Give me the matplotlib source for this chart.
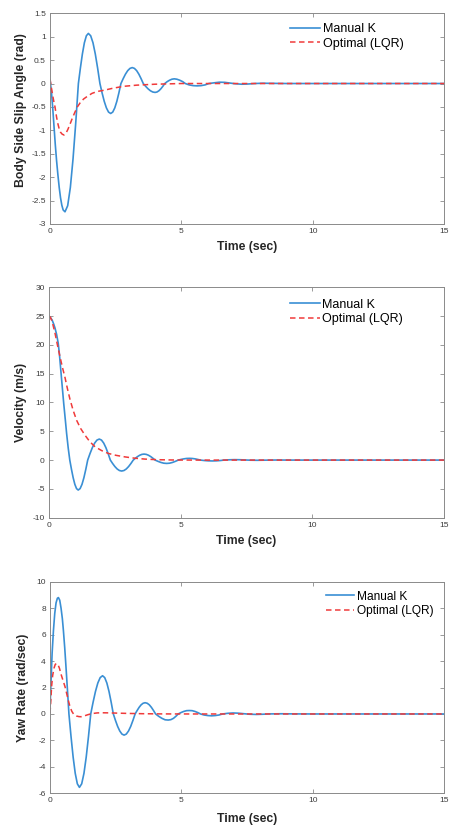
import numpy as np
import matplotlib
matplotlib.use("Agg")
from matplotlib import pyplot as plt
from matplotlib.ticker import FuncFormatter

plt.rcParams['font.family'] = ['Liberation Sans', 'DejaVu Sans']

# --- data (time in sec) ---
# body side slip angle (rad)
beta_man_t = [0.0, 0.05, 0.1, 0.15, 0.2, 0.25, 0.3, 0.35, 0.4, 0.45, 0.5, 0.57,
              0.672, 0.774, 0.876, 0.978, 1.08, 1.156, 1.232, 1.308, 1.384, 1.46,
              1.548, 1.636, 1.724, 1.812, 1.90, 1.982, 2.064, 2.146, 2.228, 2.31,
              2.388, 2.466, 2.544, 2.622, 2.70, 2.786, 2.872, 2.958, 3.044, 3.13,
              3.214, 3.298, 3.382, 3.466, 3.55, 3.64, 3.73, 3.82, 3.91, 4.0,
              4.074, 4.148, 4.222, 4.296, 4.37, 4.46, 4.55, 4.64, 4.73, 4.83, 4.94, 5.05, 5.15,
              5.3, 5.45, 5.6, 5.75, 5.9, 6.05, 6.25, 6.45, 6.65, 6.85, 7.05, 7.3, 7.55, 7.8,
              8.1, 8.5, 9.0, 15.0]
beta_man = [0.07, -0.15, -0.5, -0.9, -1.3, -1.65, -1.95, -2.22, -2.44, -2.6, -2.7, -2.74,
            -2.61, -2.22, -1.61, -0.85, 0.0, 0.33, 0.63, 0.87, 1.02, 1.07,
            1.02, 0.87, 0.63, 0.33, 0.0, -0.20, -0.38, -0.52, -0.61, -0.64,
            -0.61, -0.52, -0.38, -0.20, 0.0, 0.105, 0.20, 0.275, 0.323, 0.34,
            0.323, 0.275, 0.20, 0.105, 0.0, -0.059, -0.112, -0.154, -0.181, -0.19,
            -0.181, -0.154, -0.112, -0.059, 0.0, 0.04, 0.07, 0.092, 0.1, 0.092, 0.07, 0.04, 0.0,
            -0.03, -0.045, -0.05, -0.045, -0.03, 0.0, 0.015, 0.028, 0.025, 0.01, -0.005, -0.015, -0.01, 0.0,
            0.006, 0.003, 0.0, 0.0]
beta_lqr_t = [0.0, 0.05, 0.1, 0.15, 0.19, 0.25, 0.3, 0.35, 0.4, 0.46, 0.53, 0.6, 0.68, 0.76,
              0.85, 0.95, 1.04, 1.15, 1.28, 1.43, 1.6, 1.8, 2.09, 2.4, 2.8, 3.3, 4.0, 5.0, 15.0]
beta_lqr = [0.1, -0.08, -0.25, -0.4, -0.5, -0.72, -0.86, -0.97, -1.04, -1.08, -1.1, -1.07, -0.98, -0.87,
            -0.74, -0.61, -0.5, -0.41, -0.33, -0.27, -0.21, -0.17, -0.14, -0.1, -0.06, -0.035, -0.015, 0.0, 0.0]

# velocity (m/s)
vel_man_t = [0.0, 0.06, 0.12, 0.18, 0.23, 0.29, 0.35, 0.40, 0.46, 0.51, 0.56, 0.62, 0.67, 0.73, 0.79,
             0.854, 0.918, 0.982, 1.046, 1.11, 1.182, 1.254, 1.326, 1.398, 1.47,
             1.558, 1.646, 1.734, 1.822, 1.91, 1.994, 2.078, 2.162, 2.246, 2.33,
             2.416, 2.502, 2.588, 2.674, 2.76, 2.848, 2.936, 3.024, 3.112, 3.2,
             3.282, 3.364, 3.446, 3.528, 3.61, 3.694, 3.778, 3.862, 3.946, 4.03,
             4.14, 4.25, 4.36, 4.47, 4.58, 4.69, 4.80, 4.91, 5.01, 5.12, 5.22, 5.33, 5.44, 5.55, 5.65, 5.75,
             5.9, 6.05, 6.2, 6.35, 6.5, 6.65, 6.85, 7.05, 7.25, 7.45, 7.65, 7.9, 8.2, 8.6, 9.2, 15.0]
vel_man = [25.0, 24.7, 24.3, 23.6, 22.9, 21.8, 20.3, 18.2, 15.0, 12.4, 9.8, 7.0, 4.6, 2.1, 0.0,
           -1.61, -3.06, -4.21, -4.95, -5.2, -4.95, -4.21, -3.06, -1.61, 0.0,
           1.13, 2.15, 2.95, 3.47, 3.65, 3.47, 2.95, 2.15, 1.13, 0.0,
           -0.59, -1.12, -1.54, -1.81, -1.9, -1.81, -1.54, -1.12, -0.59, 0.0,
           0.32, 0.61, 0.84, 0.99, 1.04, 0.99, 0.84, 0.61, 0.32, 0.0,
           -0.22, -0.41, -0.54, -0.58, -0.54, -0.41, -0.22, 0.0, 0.11, 0.21, 0.28, 0.3, 0.28, 0.21, 0.11, 0.0,
           -0.08, -0.13, -0.15, -0.13, -0.08, 0.0, 0.05, 0.075, 0.06, 0.02, -0.02, -0.035, -0.015, 0.01, 0.0, 0.0]
vel_lqr_t = [0.0, 0.05, 0.1, 0.15, 0.23, 0.32, 0.42, 0.51, 0.61, 0.7, 0.8, 0.92, 1.05, 1.2, 1.37, 1.55,
             1.75, 2.0, 2.25, 2.55, 2.89, 3.25, 3.65, 4.1, 4.66, 5.5, 15.0]
vel_lqr = [25.0, 24.8, 24.3, 23.5, 22.0, 20.0, 17.9, 16.1, 14.3, 12.4, 10.5, 8.6, 6.9, 5.5, 4.3, 3.2,
           2.3, 1.65, 1.16, 0.82, 0.55, 0.33, 0.17, 0.07, 0.02, 0.0, 0.0]

# yaw rate (rad/sec)
yaw_man_t = [0.0, 0.04, 0.08, 0.13, 0.18, 0.23, 0.28, 0.32, 0.37, 0.42, 0.47, 0.51, 0.56, 0.60, 0.64, 0.68, 0.72,
             0.80, 0.88, 0.96, 1.04, 1.12, 1.206, 1.292, 1.378, 1.464, 1.55,
             1.64, 1.73, 1.82, 1.91, 2.0, 2.082, 2.164, 2.246, 2.328, 2.41,
             2.492, 2.574, 2.656, 2.738, 2.82, 2.904, 2.988, 3.072, 3.156, 3.24,
             3.316, 3.392, 3.468, 3.544, 3.62, 3.70, 3.78, 3.86, 3.94, 4.02,
             4.14, 4.26, 4.38, 4.5, 4.6, 4.7, 4.79, 4.88, 4.98, 5.09, 5.2, 5.3, 5.41, 5.52, 5.63, 5.73,
             5.87, 6.01, 6.15, 6.29, 6.43, 6.57, 6.77, 6.97, 7.17, 7.37, 7.6, 7.85, 8.1, 8.4, 8.8, 9.3, 10.0, 15.0]
yaw_man = [0.5, 2.56, 4.6, 6.3, 7.6, 8.4, 8.75, 8.8, 8.6, 8.0, 7.2, 6.3, 5.0, 3.8, 2.56, 1.3, 0.0,
           -1.71, -3.26, -4.49, -5.28, -5.55, -5.28, -4.49, -3.26, -1.71, 0.0,
           0.89, 1.70, 2.34, 2.75, 2.89, 2.75, 2.34, 1.70, 0.89, 0.0,
           -0.49, -0.94, -1.29, -1.52, -1.6, -1.52, -1.29, -0.94, -0.49, 0.0,
           0.26, 0.50, 0.69, 0.81, 0.85, 0.81, 0.69, 0.50, 0.26, 0.0,
           -0.18, -0.33, -0.44, -0.46, -0.43, -0.33, -0.18, 0.0, 0.1, 0.19, 0.25, 0.26, 0.25, 0.19, 0.1, 0.0,
           -0.08, -0.12, -0.14, -0.12, -0.08, 0.0, 0.05, 0.075, 0.06, 0.02, -0.02, -0.035, -0.02, 0.005, 0.015, 0.005, 0.0, 0.0]
yaw_lqr_t = [0.0, 0.03, 0.06, 0.1, 0.15, 0.2, 0.25, 0.3, 0.36, 0.42, 0.5, 0.57, 0.64, 0.7, 0.76, 0.83, 0.9,
             1.0, 1.1, 1.18, 1.3, 1.45, 1.6, 1.8, 2.0, 2.3, 2.6, 3.0, 3.5, 4.2, 5.0, 15.0]
yaw_lqr = [0.05, 1.0, 2.07, 2.9, 3.45, 3.75, 3.82, 3.75, 3.45, 3.0, 2.5, 2.07, 1.5, 1.0, 0.55, 0.2, -0.02,
           -0.15, -0.2, -0.21, -0.15, -0.05, 0.03, 0.08, 0.09, 0.08, 0.06, 0.04, 0.02, 0.005, 0.0, 0.0]

labels = ['Manual K', 'Optimal (LQR)']
blue = '#3a8fd4'
red = '#f03a3a'

fig = plt.figure(figsize=(4.49, 8.25), dpi=100)

def setup(ax, ylim, yticks, ylabel, ylab_pos, xlab_y, leg_xy, leg_fs=9):
    ax.set_xlim(0, 15)
    ax.set_ylim(*ylim)
    ax.set_xticks([0, 5, 10, 15])
    ax.set_yticks(yticks)
    ax.yaxis.set_major_formatter(FuncFormatter(lambda v, p: '%g' % v))
    ax.tick_params(direction='in', length=3, width=0.6, labelsize=6, colors='#8a8a8a',
                   labelcolor='#3c3c3c', top=True, right=True, pad=3)
    for s in ax.spines.values():
        s.set_color('#8a8a8a')
        s.set_linewidth(0.7)
    ax.set_xlabel('Time (sec)', fontsize=8.8, fontweight='bold', color='#262626')
    ax.xaxis.set_label_coords(0.5, xlab_y)
    ax.set_ylabel(ylabel, fontsize=8.8, fontweight='bold', color='#262626')
    ax.yaxis.set_label_coords(*ylab_pos)
    ax.legend(labels, loc='upper left', bbox_to_anchor=leg_xy, frameon=False, fontsize=leg_fs,
              handlelength=2.4, handletextpad=0.2, borderpad=0, borderaxespad=0, labelspacing=0.2)

ax1 = fig.add_axes([0.1114, 0.7285, 0.8775, 0.2554])
ax1.plot(beta_man_t, beta_man, color=blue, lw=1.2)
ax1.plot(beta_lqr_t, beta_lqr, color=red, lw=1.1, dashes=(3.6, 2.3))
setup(ax1, (-3, 1.5), np.arange(-3, 1.51, 0.5), 'Body Side Slip Angle (rad)',
      (-0.058, 0.539), -0.079, (0.61, 0.953))

ax2 = fig.add_axes([0.1091, 0.3725, 0.8797, 0.2793])
ax2.plot(vel_man_t, vel_man, color=blue, lw=1.2)
ax2.plot(vel_lqr_t, vel_lqr, color=red, lw=1.1, dashes=(3.6, 2.3))
setup(ax2, (-10, 30), np.arange(-10, 31, 5), 'Velocity (m/s)',
      (-0.056, 0.5), -0.075, (0.61, 0.95))

ax3 = fig.add_axes([0.1114, 0.0384, 0.8775, 0.2565])
ax3.plot(yaw_man_t, yaw_man, color=blue, lw=1.2)
ax3.plot(yaw_lqr_t, yaw_lqr, color=red, lw=1.1, dashes=(3.6, 2.3))
setup(ax3, (-6, 10), np.arange(-6, 11, 2), 'Yaw Rate (rad/sec)',
      (-0.054, 0.5), -0.093, (0.70, 0.958), leg_fs=8.6)

fig.savefig('out.png', dpi=100)
